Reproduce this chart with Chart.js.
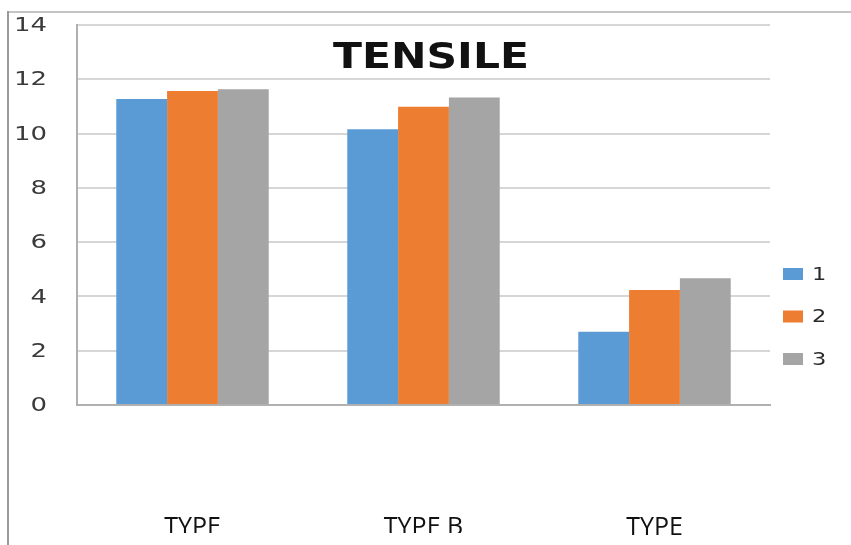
<!DOCTYPE html>
<html>
<head>
<meta charset="utf-8">
<script src="https://cdn.jsdelivr.net/npm/chart.js@4/dist/chart.umd.min.js"></script>
<style>
  html, body { margin: 0; padding: 0; background: #ffffff; overflow: hidden; }
  #wrap { position: relative; width: 851px; height: 545px; overflow: hidden; }
  canvas { display: block; }
</style>
</head>
<body>
<div id="wrap"><canvas id="chart" width="851" height="545"></canvas></div>
<script>
// Tensile results per sample type, three runs each
const categories = ['TYPE', 'TYPE B', 'TYPE'];
const seriesNames = ['1', '2', '3'];
const run1 = [11.27, 10.16, 2.70];
const run2 = [11.57, 10.99, 4.24];
const run3 = [11.63, 11.33, 4.67];
const yTicks = [0, 2, 4, 6, 8, 10, 12, 14];
const chartTitle = 'TENSILE';

const colors = ['#5B9BD5', '#ED7D31', '#A5A5A5'];

// Frame, stretched axis labels, title and legend drawn on top of the chart
const decorations = {
  id: 'decorations',
  beforeDraw(chart) {
    const ctx = chart.ctx;
    ctx.save();
    ctx.fillStyle = '#ffffff';
    ctx.fillRect(0, 0, chart.width, chart.height);
    // outer frame (top and left edges)
    ctx.fillStyle = '#c4c4c4';
    ctx.fillRect(8, 11, chart.width - 8, 2);
    ctx.fillStyle = '#9a9a9a';
    ctx.fillRect(7, 11, 2, chart.height - 11);
    ctx.restore();
  },
  afterDraw(chart) {
    const ctx = chart.ctx;
    const y = chart.scales.y;
    ctx.save();

    // value axis labels
    ctx.fillStyle = '#3a3a3a';
    ctx.font = '20px "DejaVu Sans"';
    ctx.textAlign = 'right';
    ctx.textBaseline = 'middle';
    y.ticks.forEach(t => {
      ctx.save();
      ctx.translate(47, y.getPixelForValue(t.value) + 1);
      ctx.scale(1.3, 1);
      ctx.fillText(String(t.value), 0, 0);
      ctx.restore();
    });

    // title
    ctx.fillStyle = '#111111';
    ctx.font = 'bold 36px "DejaVu Sans"';
    ctx.textAlign = 'center';
    ctx.textBaseline = 'alphabetic';
    ctx.save();
    ctx.translate(431, 68);
    ctx.scale(1.18, 1);
    ctx.fillText(chartTitle, 0, 0);
    ctx.restore();

    // legend
    ctx.font = '18px "DejaVu Sans"';
    ctx.textAlign = 'left';
    ctx.textBaseline = 'middle';
    chart.data.datasets.forEach((ds, i) => {
      const cy = 274 + i * 42.5;
      ctx.fillStyle = ds.backgroundColor;
      ctx.fillRect(783, cy - 6, 20, 12);
      ctx.fillStyle = '#2a2a2a';
      ctx.save();
      ctx.translate(812, cy + 1);
      ctx.scale(1.25, 1);
      ctx.fillText(ds.label, 0, 0);
      ctx.restore();
    });

    // category labels of the first two groups are cut off at the bottom
    ctx.fillStyle = '#ffffff';
    ctx.fillRect(130, 533, 380, 12);
    ctx.restore();
  }
};

new Chart(document.getElementById('chart'), {
  type: 'bar',
  data: {
    labels: categories,
    datasets: [
      { label: seriesNames[0], data: run1, backgroundColor: colors[0] },
      { label: seriesNames[1], data: run2, backgroundColor: colors[1] },
      { label: seriesNames[2], data: run3, backgroundColor: colors[2] }
    ]
  },
  options: {
    responsive: false,
    animation: false,
    devicePixelRatio: 1,
    layout: { padding: { left: 77, right: 81, top: 25, bottom: 0 } },
    datasets: {
      bar: { categoryPercentage: 0.66, barPercentage: 1.0, borderWidth: 0 }
    },
    plugins: {
      legend: { display: false },
      title: { display: false },
      tooltip: { enabled: false }
    },
    scales: {
      x: {
        grid: { display: false, drawTicks: false },
        border: { display: true, color: '#b0b0b0', width: 2 },
        ticks: {
          padding: 108,
          color: '#111111',
          font: { family: '"Open Sans"', size: 25 }
        },
        afterFit(scale) {
          scale.height = 140;
        }
      },
      y: {
        min: 0,
        max: 14,
        afterBuildTicks(scale) {
          scale.ticks = yTicks.map(v => ({ value: v }));
        },
        grid: { color: '#d6d6d6', lineWidth: 2, drawTicks: false },
        border: { display: true, color: '#b0b0b0', width: 2 },
        ticks: { display: false }
      }
    }
  },
  plugins: [decorations]
});
</script>
</body>
</html>
